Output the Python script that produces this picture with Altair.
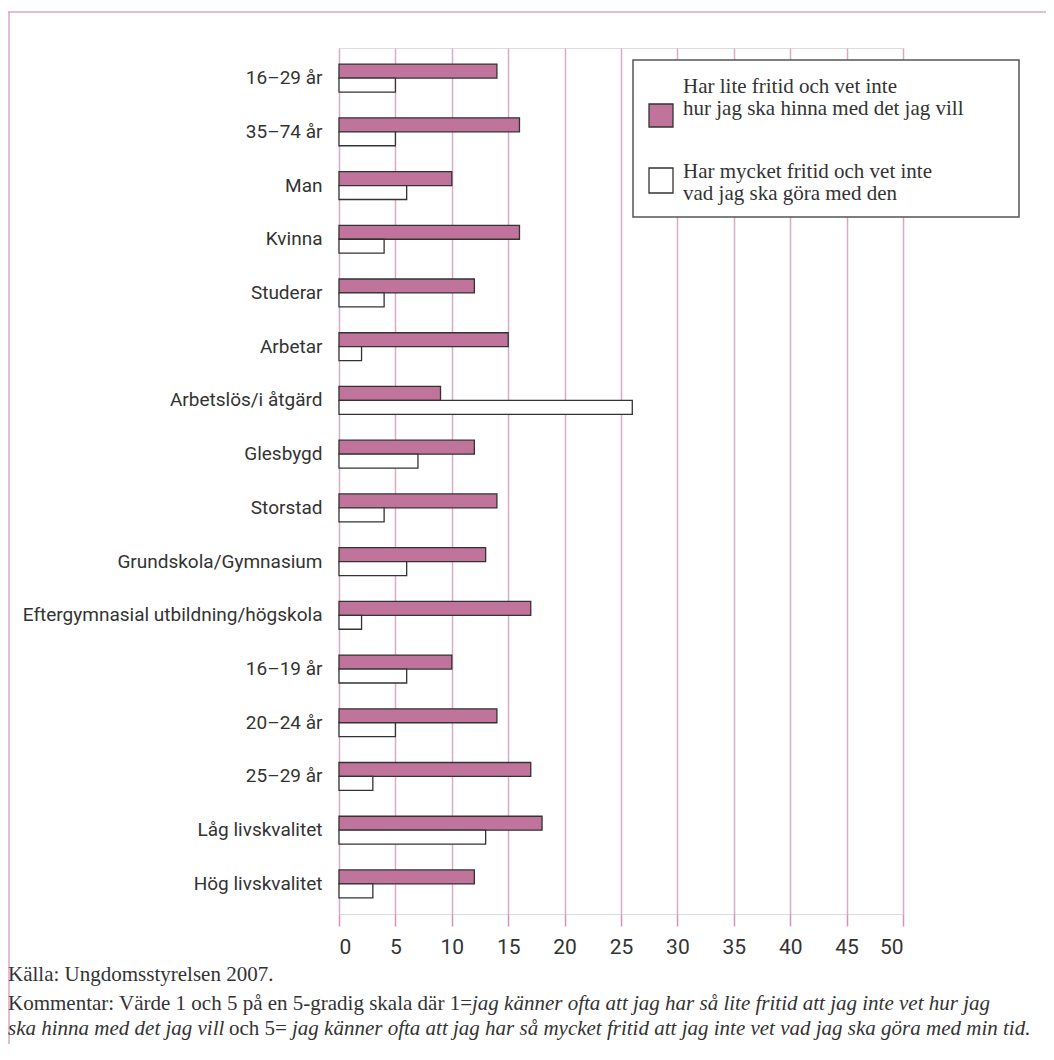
import altair as alt
import pandas as pd

categories = ["16–29 år", "35–74 år", "Man", "Kvinna", "Studerar", "Arbetar",
              "Arbetslös/i åtgärd", "Glesbygd", "Storstad", "Grundskola/Gymnasium",
              "Eftergymnasial utbildning/högskola", "16–19 år", "20–24 år", "25–29 år",
              "Låg livskvalitet", "Hög livskvalitet"]
lite_fritid = [14, 16, 10, 16, 12, 15, 9, 12, 14, 13, 17, 10, 14, 17, 18, 12]
mycket_fritid = [5, 5, 6, 4, 4, 2, 26, 7, 4, 6, 2, 6, 5, 3, 13, 3]
series = ["Har lite fritid och vet inte\nhur jag ska hinna med det jag vill",
          "Har mycket fritid och vet inte\nvad jag ska göra med den"]
colors = ["#c1749b", "#ffffff"]
x_ticks = [0, 5, 10, 15, 20, 25, 30, 35, 40, 45, 50]

source = "Källa: Ungdomsstyrelsen 2007."
note1_regular = "Kommentar: Värde 1 och 5 på en 5-gradig skala där 1="
note1_italic = "jag känner ofta att jag har så lite fritid att jag inte vet hur jag"
note2_italic_a = "ska hinna med det jag vill"
note2_regular = "och 5="
note2_italic_b = "jag känner ofta att jag har så mycket fritid att jag inte vet vad jag ska göra med min tid."

rows = []
for c, a, b in zip(categories, lite_fritid, mycket_fritid):
    rows.append({"kategori": c, "serie": series[0], "varde": a})
    rows.append({"kategori": c, "serie": series[1], "varde": b})
df = pd.DataFrame(rows)
one = pd.DataFrame({"k": [0]})

PINK = "#d593b9"
GRID = "#dcaac8"
TXT = "#333333"
SANS = "Roboto, Liberation Sans, sans-serif"
SERIF = "Liberation Serif, DejaVu Serif, serif"

W, H = 564, 866

bars = alt.Chart(df).mark_bar(stroke="#333333", strokeWidth=1.3).encode(
    y=alt.Y("kategori:N", sort=categories,
            scale=alt.Scale(paddingInner=0.48, paddingOuter=0.3),
            axis=alt.Axis(title=None, domain=False, ticks=False, labelPadding=17,
                          labelFont=SANS, labelFontSize=19, labelColor=TXT, labelLimit=0)),
    yOffset=alt.YOffset("serie:N", sort=series, scale=alt.Scale(paddingInner=0, paddingOuter=0)),
    x=alt.X("varde:Q", scale=alt.Scale(domain=[0, 50], nice=False),
            axis=alt.Axis(title=None, values=x_ticks, domain=False, tickSize=12,
                          tickColor=PINK, tickWidth=1.5, grid=True, gridColor=GRID,
                          gridWidth=1.5, labelFont=SANS, labelFontSize=21,
                          labelColor=TXT, labelPadding=10)),
    fill=alt.Fill("serie:N", scale=alt.Scale(domain=series, range=colors), legend=None),
)

# outer frame of the figure
frame_top = alt.Chart(one).mark_rule(color="#dba6c6", strokeWidth=1.5).encode(
    x=alt.value(-331), x2=alt.value(720), y=alt.value(-36))
frame_left = alt.Chart(one).mark_rule(color="#dba6c6", strokeWidth=1.5).encode(
    x=alt.value(-330), y=alt.value(-36), y2=alt.value(1000))

# legend box
leg_box = alt.Chart(one).mark_rect(fill="white", stroke="#555555", strokeWidth=1.5).encode(
    x=alt.value(294), x2=alt.value(680), y=alt.value(12), y2=alt.value(169))
leg_sq1 = alt.Chart(one).mark_rect(fill=colors[0], stroke="#333333", strokeWidth=1.3).encode(
    x=alt.value(310), x2=alt.value(334), y=alt.value(56), y2=alt.value(79))
leg_sq2 = alt.Chart(one).mark_rect(fill=colors[1], stroke="#333333", strokeWidth=1.3).encode(
    x=alt.value(310), x2=alt.value(334), y=alt.value(120), y2=alt.value(145))
LFS = 21
leg_t1 = alt.Chart(one).mark_text(align="left", baseline="middle", lineBreak="\n",
                                  lineHeight=22, font=SERIF, fontSize=LFS, color=TXT).encode(
    x=alt.value(344), y=alt.value(39), text=alt.value(series[0]))
leg_t2 = alt.Chart(one).mark_text(align="left", baseline="middle", lineBreak="\n",
                                  lineHeight=22, font=SERIF, fontSize=LFS, color=TXT).encode(
    x=alt.value(344), y=alt.value(124), text=alt.value(series[1]))

FS = 21
def note(txt, x, y, italic=False):
    return alt.Chart(one).mark_text(align="left", baseline="middle", font=SERIF, fontSize=FS,
                                    fontStyle="italic" if italic else "normal",
                                    color=TXT).encode(
        x=alt.value(x), y=alt.value(y), text=alt.value(txt))

notes = [
    note(source, -331, 927),
    note(note1_regular, -331, 956),
    note(note1_italic, 133, 956, italic=True),
    note(note2_italic_a, -331, 981, italic=True),
    note(note2_regular, -110, 981),
    note(note2_italic_b, -47, 981, italic=True),
]

chart = alt.layer(frame_top, frame_left, bars, leg_box, leg_sq1, leg_sq2, leg_t1, leg_t2, *notes).properties(
    width=W, height=H,
    autosize=alt.AutoSizeParams(type="none"),
    padding={"left": 331, "top": 40, "right": 143, "bottom": 130},
).configure_view(stroke=PINK, strokeWidth=1.5).configure(background="white")

chart.save("out.html", embed_options={"renderer": "svg", "actions": False})
